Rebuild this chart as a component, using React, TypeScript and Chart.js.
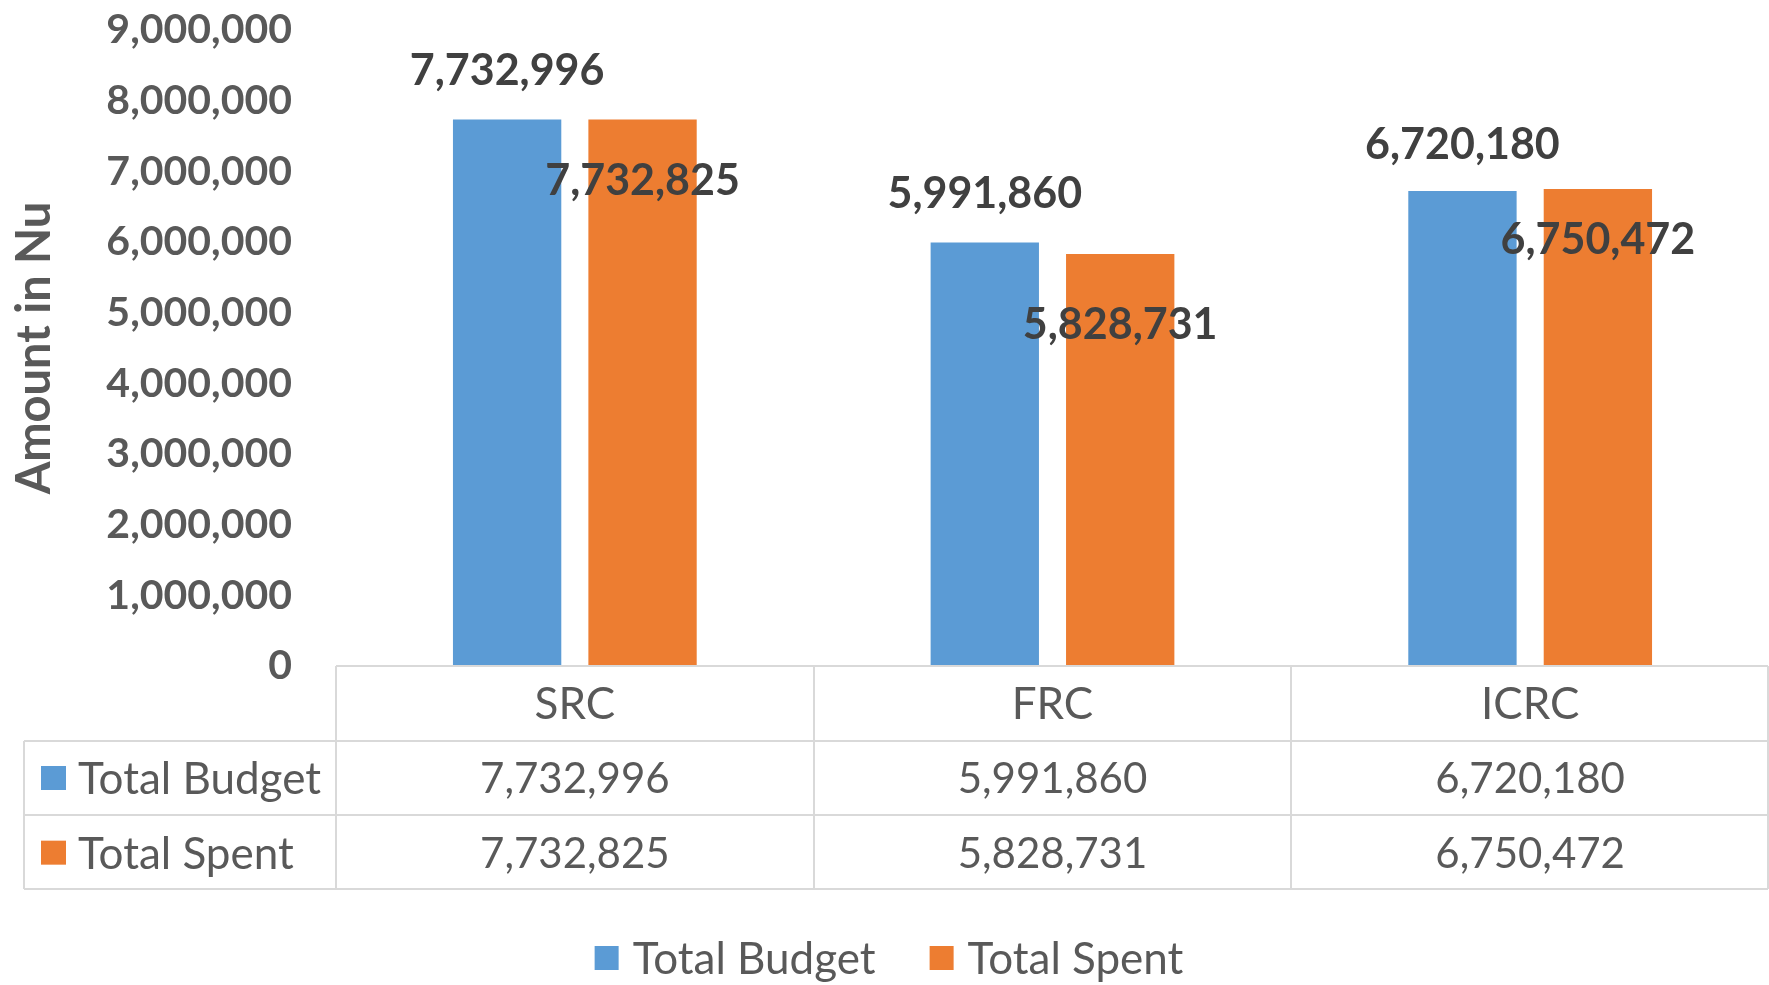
import React, { useEffect, useRef } from "react";
import { Chart, registerables } from "chart.js";

Chart.register(...registerables);

// ---- data ----
const categories = ["SRC", "FRC", "ICRC"];
const seriesNames = ["Total Budget", "Total Spent"];
const totalBudget = [7732996, 5991860, 6720180];
const totalSpent = [7732825, 5828731, 6750472];
const yTickValues = [0, 1000000, 2000000, 3000000, 4000000, 5000000, 6000000, 7000000, 8000000, 9000000];
const yAxisTitle = "Amount in Nu";

// ---- label placement (style, px) ----
const budgetLabelLift = [50, 50, 48];
const spentLabelDrop = [60, 69, 50];

// ---- styles ----
const BLUE = "#5B9BD5";
const ORANGE = "#ED7D31";
const TEXT = "#595959";
const LABEL = "#404040";
const GRID = "#D9D9D9";
const FONT = "Lato";
const NAME_SIZE = 44;
const NUM_SIZE = 42;

const fmt = (v: number) => v.toLocaleString("en-US");

const dataLabelPlugin = {
  id: "dataLabels",
  afterDatasetsDraw(chart: any) {
    const ctx = chart.ctx;
    ctx.save();
    ctx.font = `bold 43px ${FONT}`;
    ctx.fillStyle = LABEL;
    ctx.textAlign = "center";
    ctx.textBaseline = "alphabetic";
    const cap = 43 * 0.36;
    chart.data.datasets.forEach((ds: any, di: number) => {
      const meta = chart.getDatasetMeta(di);
      meta.data.forEach((bar: any, i: number) => {
        const v = ds.data[i];
        const cy = di === 0 ? bar.y - budgetLabelLift[i] : bar.y + spentLabelDrop[i];
        ctx.fillText(fmt(v), bar.x, cy + cap);
      });
    });
    ctx.restore();
  },
};

const tablePlugin = {
  id: "dataTable",
  afterDraw(chart: any) {
    const ctx = chart.ctx;
    const xs = chart.scales.x;
    const top = xs.top;
    const bottom = xs.bottom;
    const rowH = (bottom - top) / 3;
    const n = categories.length;
    const colW = xs.getPixelForValue(1) - xs.getPixelForValue(0);
    const left = xs.left;
    const right = xs.right - 1;
    const tableLeft = 24;
    const colors = [BLUE, ORANGE];

    ctx.save();
    ctx.strokeStyle = GRID;
    ctx.lineWidth = 2;
    ctx.beginPath();
    ctx.moveTo(left, top);
    ctx.lineTo(right, top);
    for (let r = 1; r <= 3; r++) {
      const y = Math.round(top + r * rowH) - (r === 3 ? 1 : 0);
      ctx.moveTo(tableLeft, y);
      ctx.lineTo(right, y);
    }
    ctx.moveTo(tableLeft, Math.round(top + rowH));
    ctx.lineTo(tableLeft, bottom - 1);
    for (let k = 0; k <= n; k++) {
      const x = k === n ? right : Math.round(left + k * colW);
      ctx.moveTo(x, top);
      ctx.lineTo(x, bottom - 1);
    }
    ctx.stroke();

    ctx.textBaseline = "alphabetic";
    ctx.textAlign = "center";
    ctx.fillStyle = TEXT;
    ctx.font = `${NAME_SIZE}px ${FONT}`;
    categories.forEach((c, i) => {
      ctx.fillText(c, xs.getPixelForValue(i), top + rowH / 2 + NAME_SIZE * 0.36);
    });
    const rows = [totalBudget, totalSpent];
    rows.forEach((vals, r) => {
      const cy = top + rowH * (r + 1.5);
      ctx.fillStyle = colors[r];
      ctx.fillRect(41, cy - 12, 25, 24);
      ctx.fillStyle = TEXT;
      ctx.textAlign = "left";
      ctx.font = `${NAME_SIZE}px ${FONT}`;
      ctx.fillText(seriesNames[r], 78, cy + NAME_SIZE * 0.36);
      ctx.textAlign = "center";
      ctx.font = `${NUM_SIZE}px ${FONT}`;
      vals.forEach((v, i) => {
        ctx.fillText(fmt(v), xs.getPixelForValue(i), cy + NUM_SIZE * 0.36);
      });
    });

    // legend
    ctx.font = `${NAME_SIZE}px ${FONT}`;
    const box = 24;
    const gapBoxText = 14;
    const gapItems = 54;
    const widths = seriesNames.map((s) => ctx.measureText(s).width);
    const total = widths.reduce((a, w) => a + box + gapBoxText + w, 0) + gapItems * (seriesNames.length - 1);
    let x = 889 - total / 2;
    const ly = 958;
    seriesNames.forEach((s, i) => {
      ctx.fillStyle = colors[i];
      ctx.fillRect(x, ly - 12, box, 24);
      x += box + gapBoxText;
      ctx.fillStyle = TEXT;
      ctx.textAlign = "left";
      ctx.fillText(s, x, ly + NAME_SIZE * 0.36);
      x += widths[i] + gapItems;
    });
    ctx.restore();
  },
};

export default function App() {
  const ref = useRef<HTMLCanvasElement | null>(null);

  useEffect(() => {
    document.body.style.margin = "0";
    const canvas = ref.current;
    if (!canvas) return;
    const chart = new Chart(canvas, {
      type: "bar",
      data: {
        labels: categories,
        datasets: [
          {
            label: seriesNames[0],
            data: totalBudget,
            backgroundColor: BLUE,
            borderWidth: 0,
            categoryPercentage: 0.567,
            barPercentage: 0.8,
          },
          {
            label: seriesNames[1],
            data: totalSpent,
            backgroundColor: ORANGE,
            borderWidth: 0,
            categoryPercentage: 0.567,
            barPercentage: 0.8,
          },
        ],
      },
      options: {
        animation: false,
        responsive: true,
        maintainAspectRatio: false,
        layout: { padding: { top: 30, left: 0, right: 0, bottom: 95 } },
        plugins: {
          tooltip: { enabled: false },
          legend: { display: false },
        },
        scales: {
          x: {
            grid: { display: false, drawTicks: false },
            border: { display: false },
            ticks: { display: false },
            afterFit(scale: any) {
              scale.height = 224;
            },
          },
          y: {
            min: 0,
            max: 9000000,
            grid: { display: false, drawTicks: true, tickLength: 40 },
            border: { display: false },
            afterBuildTicks(scale: any) {
              scale.ticks = yTickValues.map((v) => ({ value: v }));
            },
            ticks: {
              padding: 4,
              color: TEXT,
              font: { family: FONT, size: 41, weight: "bold" },
              callback: (v: any) => fmt(Number(v)),
            },
            title: {
              display: true,
              text: yAxisTitle,
              color: TEXT,
              font: { family: FONT, size: 47, weight: "bold" },
              padding: { top: 7, bottom: 0 },
            },
            afterFit(scale: any) {
              scale.width = 336;
            },
          },
        },
      },
      plugins: [dataLabelPlugin, tablePlugin],
    });
    return () => chart.destroy();
  }, []);

  return (
    <div style={{ position: "fixed", left: 0, top: 0, width: 1769, height: 985, background: "#fff" }}>
      <canvas ref={ref} />
    </div>
  );
}
